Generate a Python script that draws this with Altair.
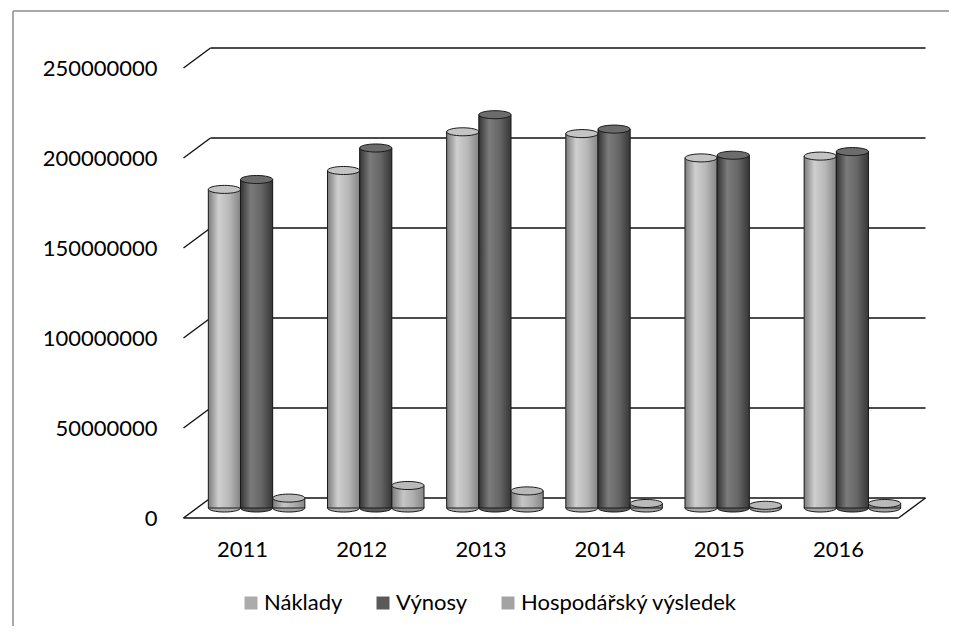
import altair as alt
import pandas as pd

years = ["2011", "2012", "2013", "2014", "2015", "2016"]
series = ["Náklady", "Výnosy", "Hospodářský výsledek"]
naklady = [177.0e6, 187.5e6, 209.0e6, 208.0e6, 194.5e6, 195.5e6]
vynosy = [182.5e6, 200.0e6, 218.5e6, 210.5e6, 196.0e6, 198.0e6]
hospodarsky = [5.5e6, 12.5e6, 9.5e6, 2.5e6, 1.5e6, 2.5e6]
y_ticks = [0, 50000000, 100000000, 150000000, 200000000, 250000000]

rows = []
for s, vals in zip(series, [naklady, vynosy, hospodarsky]):
    for yr, v in zip(years, vals):
        rows.append({"year": yr, "series": s, "value": v})
df = pd.DataFrame(rows)
grid_df = pd.DataFrame({"tick": y_ticks})
one = pd.DataFrame({"a": [0]})

FONT = "Lato"
W, H = 715, 450
DEPTH_X, DEPTH_Y = 27, 20  # 3D floor depth

legend_cols = ["#ababab", "#5a5a5a", "#a3a3a3"]
grads = [
    [("#7c7c7c", 0), ("#cfcfcf", 0.32), ("#b8b8b8", 0.65), ("#858585", 1)],
    [("#333333", 0), ("#7b7b7b", 0.32), ("#666666", 0.65), ("#363636", 1)],
    [("#7a7a7a", 0), ("#c6c6c6", 0.35), ("#b0b0b0", 0.65), ("#858585", 1)],
]
top_cols = ["#c4c4c4", "#6c6c6c", "#b9b9b9"]

ELLIPSE = "M -1 0 A 1 0.25 0 0 1 1 0 A 1 0.25 0 0 1 -1 0 Z"
BAR_W = W / 6 * 0.81 / 3
ELL_SIZE = BAR_W * BAR_W

x_enc = alt.X(
    "year:N",
    scale=alt.Scale(domain=years, paddingInner=0.19, paddingOuter=0.095),
    axis=alt.Axis(title=None, labelAngle=0, ticks=False, tickSize=0, domain=False, grid=False,
                  labelFont=FONT, labelFontSize=22, labelColor="#000000",
                  labelPadding=31, labelOffset=-14),
)
y_axis = alt.Axis(title=None, values=y_ticks, format="d", grid=False, ticks=False, tickSize=0,
                  domain=False, labelFont=FONT, labelFontSize=22, labelColor="#000000",
                  labelPadding=40, labelOffset=10)
y_scale = alt.Scale(domain=[0, 250000000], nice=False, zero=True)
y_enc = alt.Y("value:Q", scale=y_scale, axis=y_axis)
xo_enc = alt.XOffset("series:N", scale=alt.Scale(domain=series, paddingInner=0, paddingOuter=0))

frame_top = alt.Chart(one).mark_rule(color="#8c8c8c", strokeWidth=1.5).encode(
    x=alt.value(13 - 197), x2=alt.value(1000 - 197), y=alt.value(11 - 58)
)
frame_left = alt.Chart(one).mark_rule(color="#8c8c8c", strokeWidth=1.5).encode(
    x=alt.value(13 - 197), y=alt.value(11 - 58), y2=alt.value(700 - 58)
)

back_grid = alt.Chart(grid_df).mark_rule(color="#111111", strokeWidth=1.6, yOffset=-DEPTH_Y / 2).encode(
    x=alt.value(DEPTH_X / 2), x2=alt.value(W + DEPTH_X / 2),
    y=alt.Y("tick:Q", scale=y_scale, axis=y_axis),
)
connectors = alt.Chart(grid_df).mark_rule(
    color="#111111", strokeWidth=1.4, yOffset=DEPTH_Y / 2, y2Offset=-DEPTH_Y / 2
).encode(
    x=alt.value(-DEPTH_X / 2), x2=alt.value(DEPTH_X / 2),
    y=alt.Y("tick:Q", scale=y_scale, axis=y_axis), y2="tick:Q",
)
floor_front = alt.Chart(one).mark_rule(color="#111111", strokeWidth=1.6).encode(
    x=alt.value(-DEPTH_X / 2), x2=alt.value(W - DEPTH_X / 2),
    y=alt.value(H + DEPTH_Y / 2),
)
floor_side = alt.Chart(one).mark_rule(color="#111111", strokeWidth=1.4).encode(
    x=alt.value(W - DEPTH_X / 2), x2=alt.value(W + DEPTH_X / 2),
    y=alt.value(H + DEPTH_Y / 2), y2=alt.value(H - DEPTH_Y / 2),
)

layers = [frame_top, frame_left, back_grid, connectors, floor_front, floor_side]

# bottom rounding of cylinders
for i, s in enumerate(series):
    layers.append(
        alt.Chart(df).transform_filter(alt.datum.series == s).mark_point(
            shape=ELLIPSE, size=ELL_SIZE, filled=True, fill=legend_cols[i], stroke="#1a1a1a",
            strokeWidth=1, opacity=1
        ).encode(x=x_enc, xOffset=xo_enc, y=alt.Y(datum=0, scale=y_scale, axis=y_axis))
    )

# base bars carrying the legend
base = alt.Chart(df).mark_bar(strokeWidth=0).encode(
    x=x_enc, xOffset=xo_enc, y=y_enc,
    color=alt.Color("series:N", scale=alt.Scale(domain=series, range=legend_cols),
                    legend=alt.Legend(title=None, orient="none", direction="horizontal",
                                      legendX=43, legendY=534, symbolType="square",
                                      symbolSize=169, symbolStrokeWidth=0,
                                      labelFont=FONT, labelFontSize=22, labelColor="#000000",
                                      labelLimit=400, labelOffset=2, columnPadding=29,
                                      padding=0)),
)
layers.append(base)

for i, s in enumerate(series):
    grad = alt.Gradient(gradient="linear", x1=0, x2=1, y1=0, y2=0,
                        stops=[alt.GradientStop(color=c, offset=o) for c, o in grads[i]])
    layers.append(
        alt.Chart(df).transform_filter(alt.datum.series == s).mark_bar(
            fill=grad, stroke="#1a1a1a", strokeWidth=1
        ).encode(x=x_enc, xOffset=xo_enc, y=y_enc)
    )
    layers.append(
        alt.Chart(df).transform_filter(alt.datum.series == s).mark_point(
            shape=ELLIPSE, size=ELL_SIZE, filled=True, fill=top_cols[i], stroke="#1a1a1a",
            strokeWidth=1, opacity=1
        ).encode(x=x_enc, xOffset=xo_enc, y=y_enc)
    )

chart = alt.layer(*layers).properties(
    width=W, height=H,
    autosize=alt.AutoSizeParams(type="none"),
    padding={"left": 189, "top": 50, "right": 37, "bottom": 118},
    background="transparent",
).configure_view(strokeWidth=0)

chart.save("out.html", embed_options={"renderer": "svg", "actions": False})
